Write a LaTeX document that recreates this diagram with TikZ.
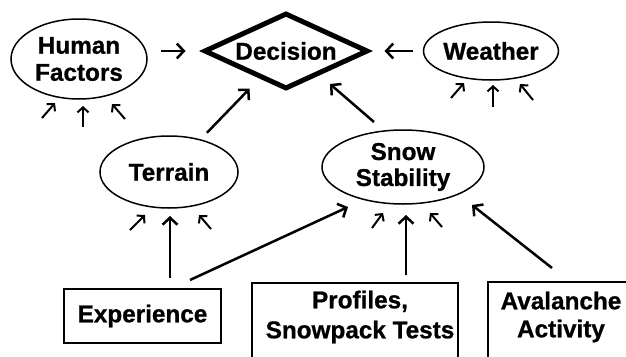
\documentclass[tikz,border=0pt]{standalone}
\usepackage{fontspec}
\setmainfont{Liberation Sans}[BoldFeatures={FakeBold=0.8}]
\usetikzlibrary{shapes.geometric,arrows.meta,calc}
\begin{document}
\begin{tikzpicture}[x=1pt,y=-1pt,
  txt/.style={font=\fontsize{24.3}{27}\selectfont\bfseries, align=center},
  oval/.style={ellipse, draw, line width=1.5pt, inner sep=0pt, txt},
  dia/.style={diamond, draw, line width=5pt, aspect=2.15, inner sep=0pt, minimum width=164pt, minimum height=76pt, txt},
  box/.style={draw, line width=2.5pt, inner sep=0pt, txt},
  mainarrow/.style={line width=2.5pt, -{Straight Barb[length=7pt,width=15pt]}},
  minorarrow/.style={line width=2pt, -{Straight Barb[length=5pt,width=11pt]}}]
\useasboundingbox (0,0) rectangle (626,356);
\clip (0,0) rectangle (626,356);
\fill[white] (0,0) rectangle (626,356);

% nodes
\node[oval, minimum width=136pt, minimum height=80pt] (hf) at (79,59) {Human\\Factors};
\node[dia] (dec) at (286,51) {Decision};
\node[oval, minimum width=134pt, minimum height=58pt] (we) at (491,51) {Weather};
\node[oval, minimum width=138pt, minimum height=72pt] (te) at (169,172) {Terrain};
\node[oval, minimum width=162pt, minimum height=74pt, font=\fontsize{24.3}{26}\selectfont\bfseries] (sn) at (403,167) {Snow\\Stability};
\node[box, minimum width=157pt, minimum height=54pt] (ex) at (142.5,316) {Experience};
\node[box, minimum width=206pt, minimum height=90pt] (pr) at (355,328) {};
\node[txt, font=\fontsize{24.3}{30}\selectfont\bfseries] (prt) at (360,317) {Profiles,\\Snowpack Tests};
\node[box, minimum width=162pt, minimum height=90pt] (av) at (569,327) {};
\node[txt, font=\fontsize{24.3}{28}\selectfont\bfseries] (avt) at (561,317) {Avalanche\\Activity};

% main connectors
\draw[mainarrow, shorten <=13pt, shorten >=16pt] (hf.east |- dec.west) -- (dec.west);
\draw[mainarrow, shorten <=10pt, shorten >=14pt] (we.west) -- (dec.east);
\draw[mainarrow, shorten <=9pt, shorten >=14pt] (te) -- (dec);
\draw[mainarrow] ($(sn)+(-29,-45)$) -- ($(dec)+(44,33)$);
\draw[mainarrow] ($(ex)+(47.5,-36)$) -- ($(sn)+(-55,40)$);
\draw[mainarrow] ($(ex)+(27.5,-38)$) -- ($(te)+(1,44)$);
\draw[mainarrow] ($(pr)+(51,-53)$) -- ($(sn)+(3,48)$);
\draw[mainarrow] ($(av)+(-17,-59)$) -- ($(sn)+(69,38)$);

% minor unnamed influences
\coordinate (hfa) at (42,118);  \coordinate (hfA) at (55,103);
\coordinate (hfb) at (83,127);  \coordinate (hfB) at (83,106);
\coordinate (hfc) at (125,119); \coordinate (hfC) at (112,104);
\coordinate (wea) at (451,98);  \coordinate (weA) at (464,83);
\coordinate (web) at (493,107); \coordinate (weB) at (493,85);
\coordinate (wec) at (533,100); \coordinate (weC) at (520,84);
\coordinate (tea) at (130,230); \coordinate (teA) at (145,215);
\coordinate (tec) at (211,229); \coordinate (teC) at (199,215);
\coordinate (sna) at (372,228); \coordinate (snA) at (383,213);
\coordinate (snc) at (442,227); \coordinate (snC) at (430,213);
\draw[minorarrow] (hfa) -- (hfA);
\draw[minorarrow] (hfb) -- (hfB);
\draw[minorarrow] (hfc) -- (hfC);
\draw[minorarrow] (wea) -- (weA);
\draw[minorarrow] (web) -- (weB);
\draw[minorarrow] (wec) -- (weC);
\draw[minorarrow] (tea) -- (teA);
\draw[minorarrow] (tec) -- (teC);
\draw[minorarrow] (sna) -- (snA);
\draw[minorarrow] (snc) -- (snC);
\end{tikzpicture}
\end{document}
